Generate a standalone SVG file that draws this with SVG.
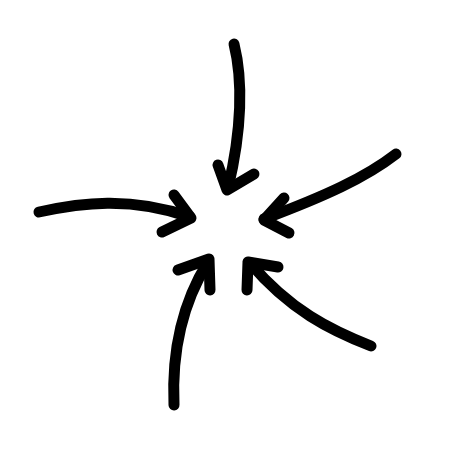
<svg xmlns="http://www.w3.org/2000/svg" width="450" height="450" viewBox="0 0 450 450">
<style>
.a{fill:none;stroke:#000;stroke-width:11;stroke-linecap:round;stroke-linejoin:round}
</style>
<rect width="450" height="450" fill="#fff"/>
<g id="arrow-top">
<path class="a" d="M234,44 C243,80 242,130 228,188"/>
<path class="a" d="M218,165 L227,190 L254,174"/>
</g>
<g id="arrow-left">
<path class="a" d="M39,212 C80,203 130,196 190,217"/>
<path class="a" d="M174,195 L191,218 L162,232"/>
</g>
<g id="arrow-upper-right">
<path class="a" d="M396,154 C365,178 325,196 264,219"/>
<path class="a" d="M284,198 L264,220 L289,233"/>
</g>
<g id="arrow-bottom-left">
<path class="a" d="M174,405 C172,360 178,310 208,262"/>
<path class="a" d="M178,270 L209,259 L210,290"/>
</g>
<g id="arrow-bottom-right">
<path class="a" d="M371,346 C330,330 290,310 250,263"/>
<path class="a" d="M278,267 L248,262 L247,290"/>
</g>
</svg>
